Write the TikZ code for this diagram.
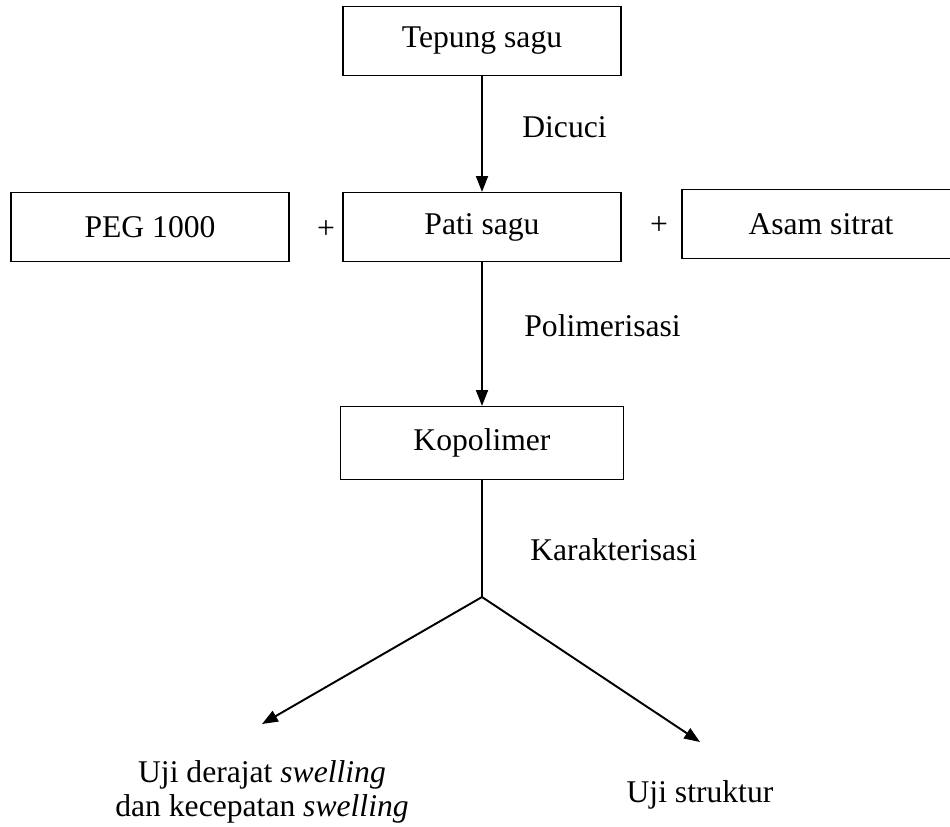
\documentclass[tikz,border=0pt]{standalone}
\usepackage{fontspec}
\setmainfont{Liberation Serif}
\usetikzlibrary{arrows.meta}

\tikzset{
  stepbox/.style={draw, line width=0.7pt, minimum width=5.56cm, minimum height=1.38cm, inner sep=0pt},
  flow/.style={-{Triangle[length=9pt,width=6.8pt]}, line width=1.1pt},
  steplabel/.style={anchor=west, inner sep=0pt},
}

\begin{document}
\begin{tikzpicture}[x=0.02cm, y=-0.02cm, font=\fontsize{18}{19}\selectfont]
        \useasboundingbox (0,0) rectangle (950,826);

        % Starting material
        \node[stepbox] (tepung) at (482,41) {Tepung sagu};
        \node[steplabel] (dicuci) at (522,127) {Dicuci};

        % Mixture
        \node[stepbox] (pati) at (482,227) {Pati sagu};
        \node[stepbox] (peg) at (150,227) {PEG 1000};
        \node[stepbox] (asam) at (821,224) {Asam sitrat};
        \node (plusA) at (326,230) {+};
        \node (plusB) at (659,226) {+};
        \node[steplabel] (polimerisasi) at (524,326) {Polimerisasi};

        % Product
        \node[stepbox, minimum width=5.66cm, minimum height=1.46cm] (kopolimer) at (482,443) {Kopolimer};
        \node[steplabel] (karakterisasi) at (530,550) {Karakterisasi};

        % Tests
        \coordinate (fork) at (482,597);
        \coordinate (tipA) at (262,724);
        \coordinate (tipB) at (700,742);
        \node[align=center] (swelling) at (262,792) {Uji derajat \textit{swelling}\\dan kecepatan \textit{swelling}};
        \node (struktur) at (700,795) {Uji struktur};

        % Connectors
        \draw[flow] (tepung) -- (pati);
        \draw[flow] (pati) -- (kopolimer);
        \draw[line width=1.1pt] (kopolimer) -- (fork);
        \draw[flow] (fork) -- (tipA);
        \draw[flow] (fork) -- (tipB);
\end{tikzpicture}
\end{document}
